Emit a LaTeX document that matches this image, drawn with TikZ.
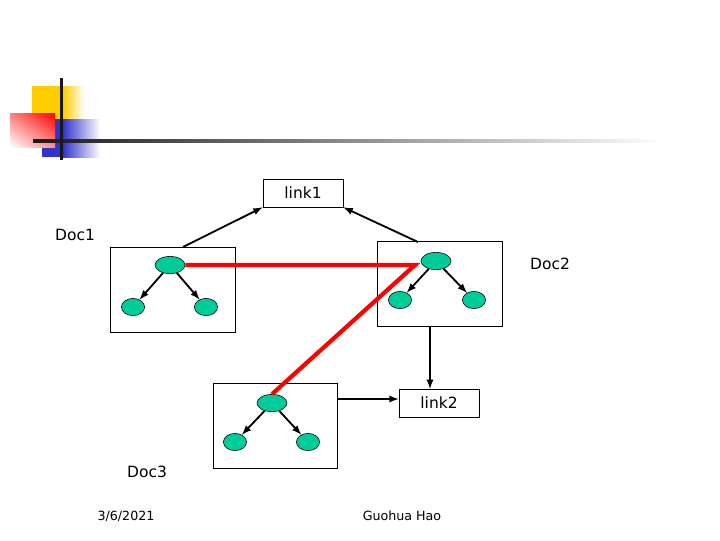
\documentclass[tikz,border=0pt]{standalone}
\usepackage{fontspec}
\setmainfont{DejaVu Sans}
\usetikzlibrary{shapes.geometric, shadings}
\definecolor{leaf}{RGB}{0,204,153}
\definecolor{sunny}{RGB}{255,204,0}
\definecolor{deepblue}{RGB}{51,51,204}

\begin{document}
\begin{tikzpicture}[x=0.025cm, y=-0.025cm]
	\tikzstyle{every node} = [font=\fontsize{11}{13}\selectfont]
	\tikzstyle{top} = [ellipse, draw, thin, fill=leaf, minimum width=0.75cm, minimum height=0.43cm, inner sep=0pt]
	\tikzstyle{leafnode} = [ellipse, draw, thin, fill=leaf, minimum width=0.58cm, minimum height=0.43cm, inner sep=0pt]
	\tikzstyle{doc} = [draw, thin, inner sep=0pt]
	\tikzstyle{lnk} = [draw, thin, minimum width=2cm, minimum height=0.7cm, inner sep=0pt]
	\tikzstyle{arr} = [-latex, line width=1.3pt]
	\useasboundingbox (0,0) rectangle (720,540);
	% corner logo
	\fill[sunny] (32,86) rectangle (63,119);
	\shade[left color=sunny, right color=white] (63,86) rectangle (84,119);
	\fill[deepblue] (42,119) rectangle (63,157);
	\shade[left color=deepblue, right color=white] (63,119) rectangle (100,157);
	\shade[upper right=red, upper left=red!50, lower right=red!45, lower left=white] (10,113) rectangle (55,147);
	\shade[left color=black!90, right color=white] (33,139.5) rectangle (665,142.5);
	\fill[black!90] (59.5,78) rectangle (62.5,160);
	% boxes
	\node[doc, minimum width=3.125cm, minimum height=2.125cm] (doc1) at (172.5,289.5) {};
	\node[doc, minimum width=3.125cm, minimum height=2.125cm] (doc2) at (439.5,283.5) {};
	\node[doc, minimum width=3.1cm, minimum height=2.125cm] (doc3) at (275,425.5) {};
	\node[lnk] (link1) at (303,193) {link1};
	\node[lnk] (link2) at (439,403) {link2};
	\coordinate (l2in) at (430,389);
	\coordinate (d3out) at (337,399);
	% trees
	\node[top] (t1) at (170,265) {};
	\node[leafnode] (l1) at (133,307) {};
	\node[leafnode] (r1) at (206,307) {};
	\node[top] (t2) at (436,261) {};
	\node[leafnode] (l2) at (400,300) {};
	\node[leafnode] (r2) at (474,300) {};
	\node[top] (t3) at (272,403) {};
	\node[leafnode] (l3) at (235,442) {};
	\node[leafnode] (r3) at (308,442) {};
	\draw [arr] (t1)--(l1);
	\draw [arr] (t1)--(r1);
	\draw [arr] (t2)--(l2);
	\draw [arr] (t2)--(r2);
	\draw [arr] (t3)--(l3);
	\draw [arr] (t3)--(r3);
	% links
	\draw [arr] (183,247)--(link1.south west);
	\draw [arr] (418,242)--(link1.south east);
	\draw [arr] (doc2.south -| l2in)--(l2in);
	\draw [arr] (d3out)--(d3out -| link2.west);
	\draw [red, line width=3pt, line join=miter] (t1.east)--(415,265)--(t3.north);
	% labels
	\node (lbl1) at (75,235) {Doc1};
	\node (lbl2) at (550,264) {Doc2};
	\node (lbl3) at (147,472) {Doc3};
	\node[font=\fontsize{9}{11}\selectfont] (date) at (126,516) {3/6/2021};
	\node[font=\fontsize{9}{11}\selectfont] (author) at (402,516) {Guohua Hao};
\end{tikzpicture}
\end{document}
